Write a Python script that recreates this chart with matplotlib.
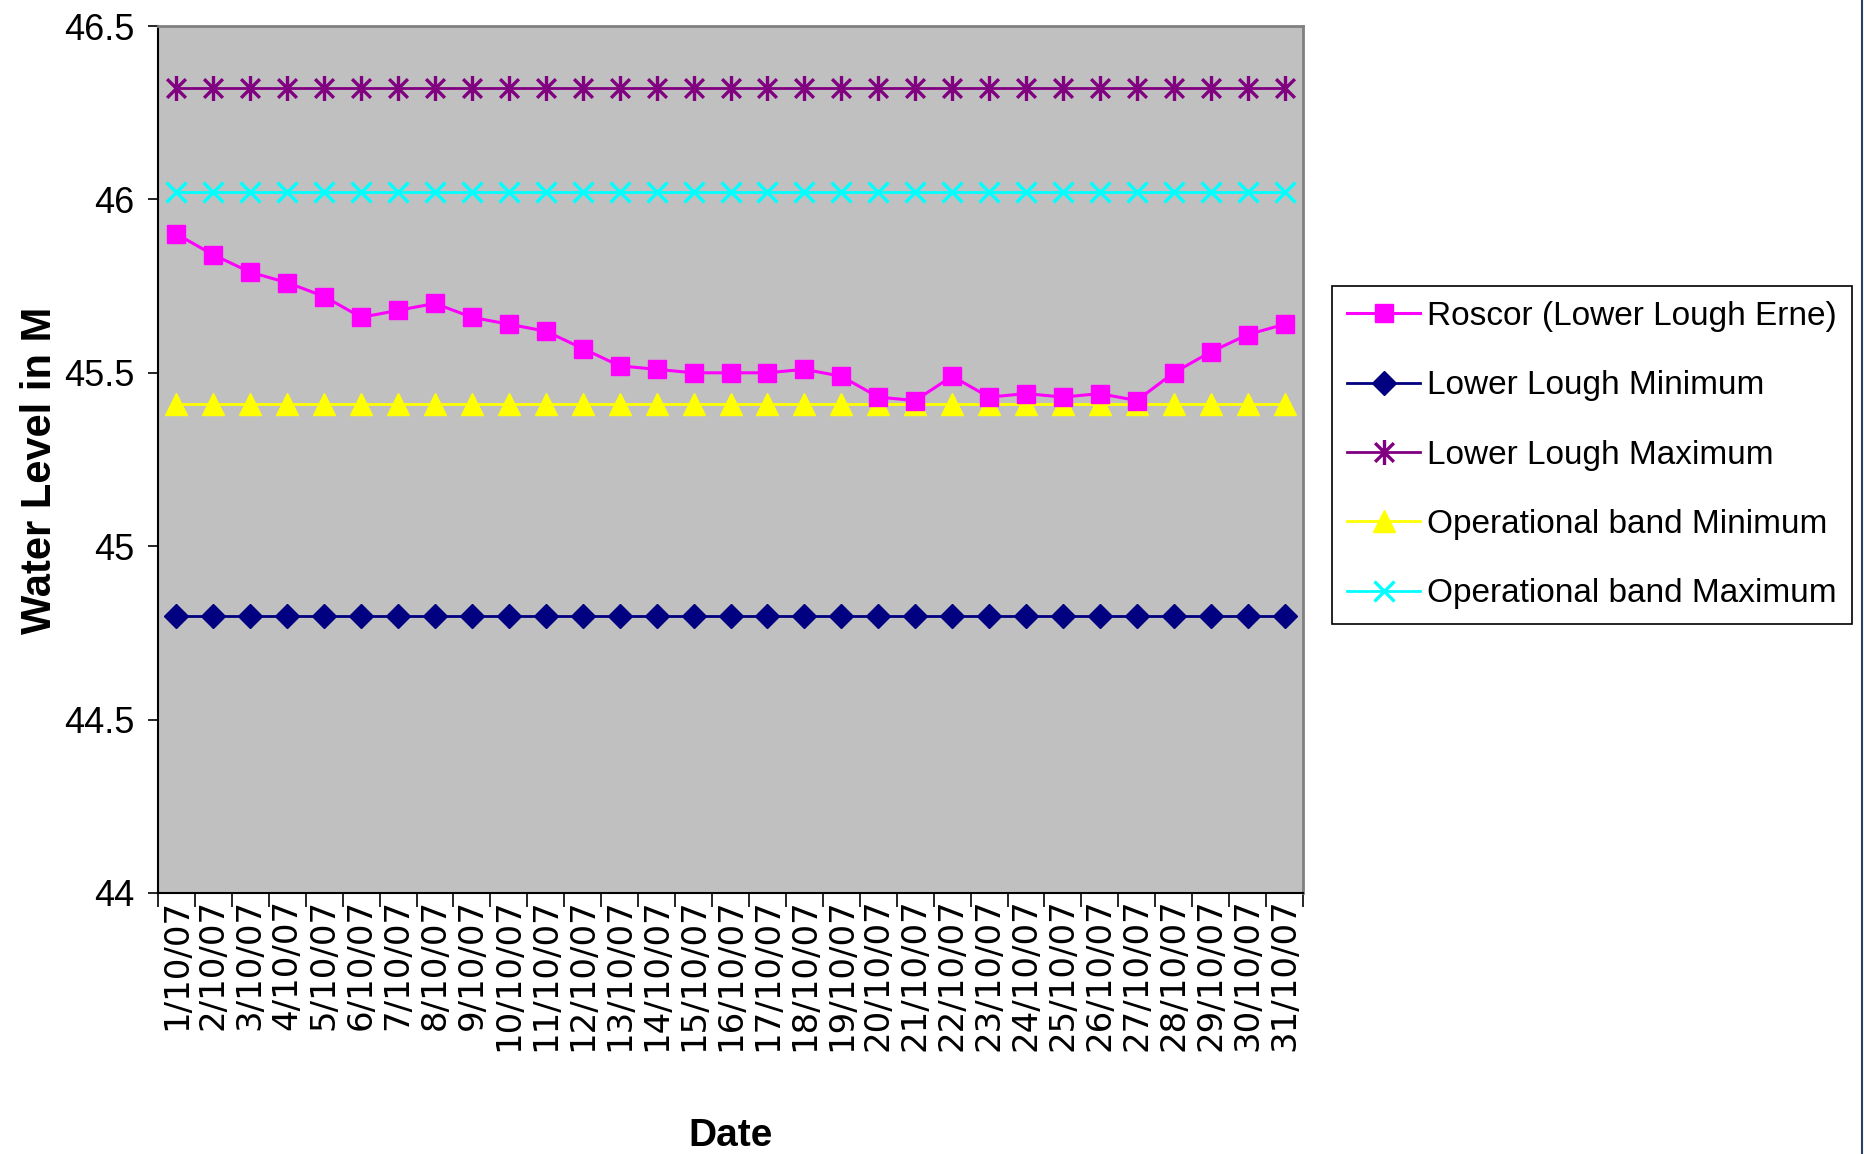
import numpy as np
import matplotlib
matplotlib.use("Agg")
import matplotlib.pyplot as plt
from matplotlib.path import Path
from matplotlib.lines import Line2D

# Daily water levels, October 2007
dates = [f"{d}/10/07" for d in range(1, 32)]
roscor = [45.90, 45.84, 45.79, 45.76, 45.72, 45.66, 45.68, 45.70, 45.66, 45.64,
          45.62, 45.57, 45.52, 45.51, 45.50, 45.50, 45.50, 45.51, 45.49, 45.43,
          45.42, 45.49, 45.43, 45.44, 45.43, 45.44, 45.42, 45.50, 45.56, 45.61,
          45.64]
lower_min = 44.80
lower_max = 46.32
band_min = 45.41
band_max = 46.02

yticks = [44, 44.5, 45, 45.5, 46, 46.5]
ytick_labels = ["44", "44.5", "45", "45.5", "46", "46.5"]

plt.rcParams["font.family"] = ["Liberation Sans", "DejaVu Sans"]

# Excel-style asterisk: an X with a vertical bar through it
star = Path([(0, -1), (0, 1), (-0.75, -0.75), (0.75, 0.75), (-0.75, 0.75), (0.75, -0.75)],
            [Path.MOVETO, Path.LINETO, Path.MOVETO, Path.LINETO, Path.MOVETO, Path.LINETO])

fig = plt.figure(figsize=(18.64, 11.54), dpi=100)
ax = fig.add_axes([158 / 1864, 1 - 893 / 1154, 1145 / 1864, 867 / 1154])
ax.set_facecolor("#C0C0C0")

x = np.arange(len(dates))
n = len(dates)
ax.plot(x, roscor, color="#FF00FF", lw=2.2, marker="s", ms=13,
        label="Roscor (Lower Lough Erne)", zorder=5)
ax.plot(x, [lower_min] * n, color="#000080", lw=2, marker="D", ms=12,
        label="Lower Lough Minimum")
ax.plot(x, [lower_max] * n, color="#800080", lw=2, marker=star, ms=18, mew=2.4,
        label="Lower Lough Maximum")
ax.plot(x, [band_min] * n, color="#FFFF00", lw=2, marker="^", ms=16,
        label="Operational band Minimum")
ax.plot(x, [band_max] * n, color="#00FFFF", lw=2, marker="x", ms=15, mew=2.4,
        label="Operational band Maximum")

ax.set_xlim(-0.5, n - 0.5)
ax.set_ylim(44, 46.5)

# category boundaries carry the tick marks, centres carry the labels
ax.set_xticks(np.arange(-0.5, n, 1.0))
ax.set_xticklabels([])
ax.set_xticks(x, minor=True)
ax.set_xticklabels(dates, minor=True, rotation=90, fontsize=24.5,
                   family="DejaVu Sans")
ax.tick_params(axis="x", which="major", length=10, width=1.2, direction="out")
ax.tick_params(axis="x", which="minor", length=0, pad=4)

ax.set_yticks(yticks)
ax.set_yticklabels(ytick_labels, fontsize=26)
ax.tick_params(axis="y", length=7, width=1.2, direction="out", pad=10)

for side in ["top", "right"]:
    ax.spines[side].set_color("#808080")
    ax.spines[side].set_linewidth(2)
for side in ["left", "bottom"]:
    ax.spines[side].set_color("black")
    ax.spines[side].set_linewidth(1.5)

ax.set_ylabel("Water Level in M", fontsize=30, fontweight="bold")
ax.yaxis.set_label_coords(-0.086, 0.487)
ax.set_xlabel("Date", fontsize=28, fontweight="bold")
ax.xaxis.set_label_coords(0.5, -0.259)

leg = ax.legend(loc="upper left", bbox_to_anchor=(1332 / 1864, 1 - 286 / 1154),
                bbox_transform=fig.transFigure, fontsize=24, numpoints=1,
                handlelength=2.2, handletextpad=0.2, labelspacing=1.15,
                borderpad=0.45, borderaxespad=0, fancybox=False, framealpha=1)
leg.get_frame().set_edgecolor("black")
leg.get_frame().set_linewidth(1.2)

fig.add_artist(Line2D([1862 / 1864, 1862 / 1864], [0, 1], color="#27406A",
                      lw=1.5, transform=fig.transFigure))

fig.savefig("out.png", dpi=100)
